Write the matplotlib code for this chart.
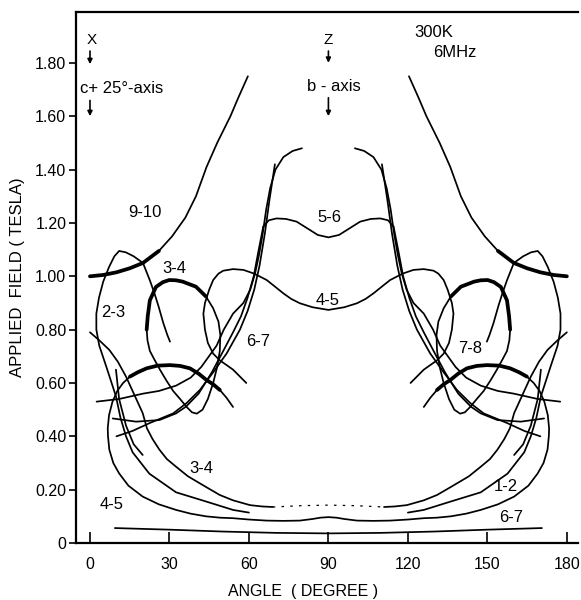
import matplotlib
matplotlib.use("Agg")
import matplotlib.pyplot as plt
import numpy as np

plt.rcParams["font.family"] = ["Liberation Sans", "DejaVu Sans"]

# ---- curves of the left half (angle in degree, field in tesla); the chart is mirrored about 90 deg
c910_ang = [0, 5, 10, 15, 20, 26, 31, 36, 40, 44, 48, 53, 56, 59.6]
c910_fld = [1.00, 1.005, 1.015, 1.03, 1.05, 1.095, 1.15, 1.22, 1.30, 1.41, 1.50, 1.60, 1.67, 1.75]

c23_ang = [60, 54, 44, 32.5, 22.4, 16.1, 13.6, 11.5, 9.8, 6.2, 3.5, 2.4, 2.4, 3.4, 5.0, 7.2,
           9.2, 11, 13.5, 16.5, 20, 22.6, 24.2, 25.8, 27.7, 29.2, 30.2]
c23_fld = [0.114, 0.124, 0.155, 0.19, 0.26, 0.34, 0.40, 0.47, 0.55, 0.66, 0.74, 0.80, 0.86, 0.92,
           0.98, 1.035, 1.075, 1.095, 1.09, 1.075, 1.05, 0.985, 0.94, 0.89, 0.824, 0.78, 0.755]

c34low_ang = [0, 3.5, 7.3, 10.5, 13.6, 17, 19.9, 21.5, 23.6, 26.2, 29, 32.5, 37, 43.8, 49, 54, 60.4, 65, 69]
c34low_fld = [0.79, 0.76, 0.724, 0.68, 0.624, 0.55, 0.487, 0.43, 0.39, 0.35, 0.315, 0.286, 0.25,
              0.21, 0.18, 0.16, 0.142, 0.137, 0.135]
gap_ang = [69, 80, 90]
gap_fld = [0.135, 0.14, 0.142]

c34loop_ang = [21.4, 21.8, 22.6, 24.9, 27.5, 29.9, 32.5, 35, 40, 43.8, 46.5, 48.5, 49.2, 49, 48,
               46.5, 44.5, 42.5, 40.3, 38.5, 36.5, 34, 31.4, 28.8, 26.4, 24.2, 22.6, 21.7, 21.4]
c34loop_fld = [0.80, 0.85, 0.91, 0.96, 0.978, 0.986, 0.985, 0.98, 0.961, 0.924, 0.88, 0.83, 0.78,
               0.72, 0.66, 0.60, 0.54, 0.50, 0.485, 0.49, 0.51, 0.54, 0.57, 0.61, 0.65, 0.69, 0.72,
               0.76, 0.80]

c45out_ang = [54, 51.5, 49, 46.5, 44, 41, 37.7, 34, 30.2, 25.5, 21.4, 18, 15.1, 12.5, 10.3, 8.5,
              7.2, 6.7, 6.8, 7.3, 8.8, 11, 14.5, 19.9, 26, 32.5, 38, 43.8, 49, 54, 60, 66.7, 73,
              79.2, 84, 87, 90]
c45out_fld = [0.51, 0.545, 0.574, 0.595, 0.611, 0.635, 0.655, 0.664, 0.667, 0.665, 0.655, 0.64,
              0.624, 0.60, 0.57, 0.53, 0.48, 0.43, 0.40, 0.35, 0.30, 0.261, 0.215, 0.174, 0.145,
              0.124, 0.11, 0.10, 0.095, 0.093, 0.088, 0.084, 0.083, 0.084, 0.09, 0.095, 0.097]

c45mid_ang = [59, 54, 49, 46.5, 44.5, 43.4, 42.8, 43.4, 45, 46.5, 48.5, 50.3, 54, 57.9, 62, 66.7,
              70, 73, 76, 79.2, 84, 90]
c45mid_fld = [0.60, 0.65, 0.685, 0.71, 0.75, 0.80, 0.86, 0.90, 0.95, 0.986, 1.01, 1.021, 1.027,
              1.024, 1.01, 0.986, 0.96, 0.936, 0.915, 0.899, 0.884, 0.874]

c56_ang = [65.4, 67.5, 70.4, 74, 78, 82, 86, 90]
c56_fld = [1.186, 1.21, 1.217, 1.215, 1.205, 1.18, 1.155, 1.146]

c67a_ang = [2.5, 11, 20, 26, 32.5, 38, 42, 47.8, 50.5, 54, 57.9, 60.5, 62.3, 63.8, 65.2, 66.5,
            68, 70, 73, 76.5, 80]
c67a_fld = [0.53, 0.54, 0.56, 0.57, 0.59, 0.62, 0.66, 0.74, 0.80, 0.86, 0.90, 0.95, 1.01, 1.08,
            1.16, 1.25, 1.33, 1.40, 1.447, 1.47, 1.48]
c67b_ang = [8.6, 17.4, 26.2, 32.5, 36.2, 41, 46, 50.3, 54, 57, 59.5, 61.8, 63.5, 65.4]
c67b_fld = [0.467, 0.455, 0.461, 0.486, 0.511, 0.56, 0.64, 0.72, 0.79, 0.85, 0.92, 1.0, 1.09, 1.186]
c67c_ang = [10, 16, 22.6, 31.4, 36.5, 41.5, 46.5, 51.6, 56.6, 59.5, 62, 64, 66, 67.8, 69.8]
c67c_fld = [0.40, 0.42, 0.45, 0.486, 0.525, 0.574, 0.64, 0.711, 0.80, 0.87, 0.95, 1.04, 1.16, 1.29, 1.42]

short_ang = [9.8, 11, 13.6, 16.5, 19.9]
short_fld = [0.65, 0.54, 0.44, 0.37, 0.33]

base_ang = [9.4, 30, 50, 70, 90]
base_fld = [0.056, 0.05, 0.043, 0.038, 0.036]

x_ticks = [0, 30, 60, 90, 120, 150, 180]
y_ticks = [0, 0.2, 0.4, 0.6, 0.8, 1.0, 1.2, 1.4, 1.6, 1.8]
y_tick_labels = ["0", "0.20", "0.40", "0.60", "0.80", "1.00", "1.20", "1.40", "1.60", "1.80"]

# (text, angle, field)
curve_labels = [
    ("9-10", 20.8, 1.24), ("3-4", 32, 1.03), ("2-3", 8.7, 0.866), ("6-7", 63.4, 0.754),
    ("5-6", 90.4, 1.219), ("4-5", 89.6, 0.911), ("3-4", 42.1, 0.28), ("4-5", 8.3, 0.143),
    ("7-8", 143.4, 0.73), ("1-2", 157, 0.21), ("6-7", 158.9, 0.094),
]


def mirrored(a, b):
    a = np.asarray(a, float)
    b = np.asarray(b, float)
    return [(a, b), (180 - a, b)]


def through_center(a, b):
    a = np.asarray(a, float)
    b = np.asarray(b, float)
    return np.concatenate([a, 180 - a[::-1][1:]]), np.concatenate([b, b[::-1][1:]])


fig = plt.figure(figsize=(5.81, 6.0), dpi=100)
ax = fig.add_axes([0.1308, 0.095, 0.864, 0.885])

thin = dict(color="black", lw=1.25, solid_capstyle="round", solid_joinstyle="round")
thick = dict(color="black", lw=2.7, solid_capstyle="round", solid_joinstyle="round")

# open curves on both sides
for a, b in [(c910_ang, c910_fld), (c23_ang, c23_fld), (c34low_ang, c34low_fld),
             (c34loop_ang, c34loop_fld), (c67a_ang, c67a_fld), (c67b_ang, c67b_fld),
             (c67c_ang, c67c_fld), (short_ang, short_fld)]:
    for xa, yb in mirrored(a, b):
        ax.plot(xa, yb, **thin)

# beaded (thick) portions
for a, b in [(c910_ang[:6], c910_fld[:6]), (c34loop_ang[:10], c34loop_fld[:10]),
             (c45out_ang[2:13], c45out_fld[2:13])]:
    for xa, yb in mirrored(a, b):
        ax.plot(xa, yb, **thick)

# curves running through the b-axis
for a, b in [(c45out_ang, c45out_fld), (c45mid_ang, c45mid_fld), (c56_ang, c56_fld),
             (base_ang, base_fld)]:
    xa, yb = through_center(a, b)
    ax.plot(xa, yb, **thin)

xa, yb = through_center(gap_ang, gap_fld)
ax.plot(xa, yb, color="black", lw=0.9, linestyle=(0, (2, 5)))

for txt, xa, yb in curve_labels:
    ax.text(xa, yb, txt, ha="center", va="center", fontsize=12)

# axis markers
arrow = dict(arrowstyle="-|>", color="black", lw=1.2, mutation_scale=7)
ax.text(0.6, 1.885, "X", ha="center", va="center", fontsize=11)
ax.annotate("", xy=(0, 1.785), xytext=(0, 1.855), arrowprops=arrow)
ax.text(-3.8, 1.706, "c+ 25°-axis", ha="left", va="center", fontsize=12)
ax.annotate("", xy=(0, 1.59), xytext=(0, 1.67), arrowprops=arrow)
ax.text(89.8, 1.885, "Z", ha="center", va="center", fontsize=11)
ax.annotate("", xy=(90, 1.79), xytext=(90, 1.855), arrowprops=arrow)
ax.text(92, 1.71, "b - axis", ha="center", va="center", fontsize=12)
ax.annotate("", xy=(90, 1.59), xytext=(90, 1.68), arrowprops=arrow)
ax.text(122.6, 1.916, "300K", ha="left", va="center", fontsize=12)
ax.text(129.5, 1.84, "6MHz", ha="left", va="center", fontsize=12)

ax.set_xlim(-5.28, 184.2)
ax.set_ylim(0, 1.991)
ax.set_xticks(x_ticks)
ax.set_yticks(y_ticks)
ax.set_yticklabels(y_tick_labels)
ax.tick_params(axis="x", direction="in", length=8, width=1.2, labelsize=11.5, pad=10)
ax.tick_params(axis="y", direction="out", length=5, width=1.2, labelsize=11.5, pad=2)

ax.spines["right"].set_visible(False)
for s in ["top", "left", "bottom"]:
    ax.spines[s].set_linewidth(1.6)

ax.set_xlabel("ANGLE  ( DEGREE )", fontsize=11.5)
ax.xaxis.set_label_coords(0.452, -0.077)
ax.set_ylabel("APPLIED  FIELD ( TESLA)", fontsize=12)
ax.yaxis.set_label_coords(-0.1016, 0.5)

fig.savefig("out.png", dpi=100)
